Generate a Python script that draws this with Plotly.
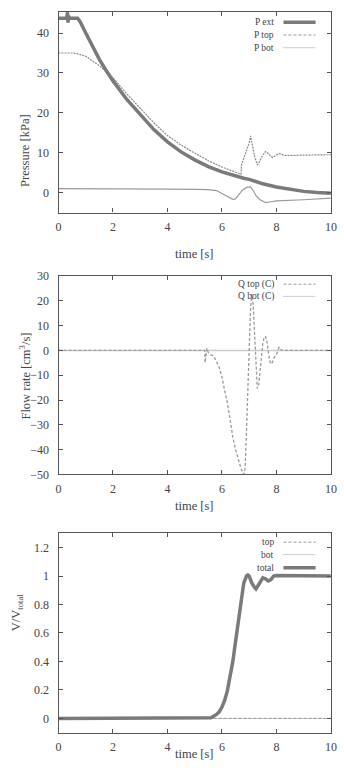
import plotly.graph_objects as go

# ---------------- data ----------------
# Panel 1: pressures
t_pext = [0, 0.3, 0.33, 0.35, 0.37, 0.4, 0.7, 0.8, 1.0, 1.25, 1.5, 1.75, 2.0, 2.5, 3.0, 3.5, 4.0,
          4.5, 5.0, 5.5, 6.0, 6.5, 6.8, 7.0, 7.2, 7.5, 8.0, 8.5, 9.0, 9.5, 10]
p_ext = [43.7, 43.7, 45.2, 42.6, 44.3, 43.7, 43.7, 42.8, 40.0, 36.5, 33.4, 30.6, 28.0, 23.4, 19.5, 15.8, 12.7,
         10.2, 8.2, 6.5, 5.2, 4.1, 3.6, 3.3, 2.8, 2.2, 1.4, 0.8, 0.3, 0.0, -0.2]

t_ptop = [0, 1, 2, 3, 4, 5, 5.5, 5.8, 6.0, 6.2, 6.4, 6.5, 6.6, 6.75, 6.9, 7.05, 7.15, 7.25, 7.4,
          7.6, 7.8, 8.0, 9.0, 10]
p_top = [1.0, 1.0, 0.9, 0.9, 0.85, 0.8, 0.75, 0.5, -0.2, -1.0, -1.7, -1.6, -0.8, 0.6, 1.3, 1.4, 0.5, -0.8, -1.8,
         -2.5, -2.3, -2.1, -1.8, -1.4]

t_pbot = [0, 0.5, 0.7, 1.0, 1.5, 2.0, 2.5, 3.0, 3.5, 4.0, 4.5, 5.0, 5.5, 6.0, 6.5, 6.7, 6.72, 6.8, 6.9,
          7.0, 7.05, 7.1, 7.2, 7.3, 7.35, 7.45, 7.6, 7.7, 7.85, 8.0, 8.1, 8.3, 9.0, 10]
p_bot = [35.0, 35.0, 34.8, 34.2, 31.8, 28.8, 24.8, 21.1, 17.5, 14.3, 11.9, 9.9, 8.0, 6.4, 5.0, 4.6, 7.0, 8.5, 10.5,
         12.5, 14.2, 12.5, 9.0, 7.0, 7.3, 8.8, 10.3, 9.8, 8.8, 9.4, 9.8, 9.3, 9.4, 9.5]

# Panel 2: flow rates
t_qtop = [0, 5.37, 5.38, 5.45, 5.5, 5.6, 5.7, 5.8, 5.9, 6.0, 6.1, 6.2, 6.3, 6.4, 6.5, 6.6, 6.7, 6.8,
          6.85, 6.9, 6.95, 7.0, 7.05, 7.1, 7.15, 7.2, 7.25, 7.3, 7.35, 7.4, 7.45, 7.5, 7.55, 7.6,
          7.65, 7.7, 7.75, 7.8, 7.85, 7.9, 8.0, 8.1, 8.15, 8.2, 10]
q_top = [0, 0, -4.9, 0.8, -0.9, -1.8, -2.2, -4.2, -6.8, -10.8, -15.4, -21.3, -27.9, -35.0, -40.0, -44.3, -47.6, -50.0,
         -47.6, -33.0, -17.4, 2.4, 16.8, 22.8, 18.0, 6.3, -6.8, -15.4, -14.0, -8.2, -2.2, 3.0, 5.0, 5.7,
         3.7, -0.9, -4.2, -5.5, -4.9, -3.2, -1.6, 1.3, 0.8, 0.0, 0.0]
t_qbot = [0, 10]
q_bot = [0, 0]

# Panel 3: volume fractions
t_vtot = [0, 5.4, 5.6, 5.8, 5.9, 6.0, 6.1, 6.2, 6.3, 6.4, 6.5, 6.6, 6.7, 6.8, 6.9, 6.95, 7.0, 7.1,
          7.2, 7.25, 7.35, 7.5, 7.6, 7.7, 7.8, 7.9, 8.0, 10]
v_tot = [0, 0.0, 0.005, 0.028, 0.046, 0.08, 0.126, 0.195, 0.287, 0.40, 0.54, 0.68, 0.815, 0.95, 1.0, 1.007, 1.0, 0.95,
         0.92, 0.91, 0.94, 0.987, 0.98, 0.965, 0.975, 1.0, 1.003, 1.0]
t_vtop = [0, 10]
v_top = [0, 0]
t_vbot = [0, 10]
v_bot = [0, 0]

# ---------------- styling ----------------
FONT = "Liberation Serif"
THICK = "#7a7a7a"
THIN = "#9a9a9a"
FRAME = "#555555"
TXT = "#444444"
DASH = "3px,2px"
DOT = "1px,1px"

fig = go.Figure()

def add(x, y, ax, color, width, dash):
    fig.add_trace(go.Scatter(x=x, y=y, mode="lines", xaxis="x" + ax, yaxis="y" + ax,
                             line=dict(color=color, width=width, dash=dash),
                             showlegend=False, hoverinfo="skip"))

add(t_ptop, p_top, "", THIN, 1.2, "solid")
add(t_pbot, p_bot, "", "#8a8a8a", 1.2, "2px,1px")
add(t_pext, p_ext, "", THICK, 3.5, "solid")

add(t_qbot, q_bot, "2", THIN, 1.5, DOT)
add(t_qtop, q_top, "2", THIN, 1.3, DASH)

add(t_vtop, v_top, "3", THIN, 1, DASH)
add(t_vbot, v_bot, "3", THIN, 1, DOT)
add(t_vtot, v_tot, "3", THICK, 3.5, "solid")

W, H = 344, 774
x0, x1 = 57 / W, 336.7 / W
domains = [(1 - 209.3 / H, 1 - 5 / H), (1 - 476 / H, 1 - 274 / H), (1 - 739 / H, 1 - 536 / H)]
yranges = [[-5, 45.3], [-50, 30], [-0.1, 1.3]]
ydticks = [10, 10, 0.2]
yticks0 = [0, -50, 0]

axcommon = dict(showline=True, linecolor=FRAME, linewidth=1.2, mirror="ticks", ticks="inside",
                ticklen=4, tickcolor=FRAME, showgrid=False, zeroline=False,
                tickfont=dict(family=FONT, size=12, color=TXT))

layout = dict(width=W, height=H, margin=dict(l=0, r=0, t=0, b=0),
              paper_bgcolor="white", plot_bgcolor="white", showlegend=False,
              font=dict(family=FONT, color=TXT))
for i in range(3):
    s = "" if i == 0 else str(i + 1)
    layout["xaxis" + s] = dict(axcommon, domain=[x0, x1], range=[0, 10], dtick=2, tick0=0,
                               anchor="y" + s, ticklabelstandoff=3)
    layout["yaxis" + s] = dict(axcommon, domain=list(domains[i]), range=yranges[i],
                               dtick=ydticks[i], tick0=yticks0[i], anchor="x" + s,
                               ticklabelstandoff=6)
fig.update_layout(**layout)

# axis titles
titles_y = [("Pressure [kPa]", 107, 12.7), ("Flow rate [cm<sup>3</sup>/s]", 376, 12.7),
            ("V/V<sub>total</sub>", 638, 5)]
for txt, yc, xc in titles_y:
    fig.add_annotation(text=txt, x=xc / W, y=1 - yc / H,
                       xref="paper", yref="paper", showarrow=False, textangle=-90,
                       font=dict(family=FONT, size=12.5, color=TXT))
for yc in [242.7, 508, 770]:
    fig.add_annotation(text="time [s]", x=(57 + 336.7) / 2 / W, y=1 - yc / H,
                       xref="paper", yref="paper", showarrow=False,
                       font=dict(family=FONT, size=12.5, color=TXT))

# manual gnuplot-style legends (label left of sample)
legends = [
    [("P ext", 15.5, THICK, 3.5, "solid"), ("P top", 28.5, THIN, 1, DASH), ("P bot", 41.5, THIN, 1, DOT)],
    [("Q top (C)", 282.3, THIN, 1, DASH), ("Q bot (C)", 294.7, THIN, 1, DOT)],
    [("top", 545, THIN, 1, DASH), ("bot", 557.7, THIN, 1, DOT), ("total", 571, THICK, 3.5, "solid")],
]
for entries in legends:
    for name, yc, col, w, dash in entries:
        fig.add_annotation(text=name, x=280 / W, y=1 - yc / H, xref="paper", yref="paper",
                           xanchor="right", yanchor="middle", showarrow=False,
                           font=dict(family=FONT, size=9.5, color=TXT))
        fig.add_shape(type="line", xref="paper", yref="paper", x0=288 / W, x1=321 / W,
                      y0=1 - yc / H, y1=1 - yc / H, line=dict(color=col, width=w, dash=dash))

fig.write_html("out.html")
